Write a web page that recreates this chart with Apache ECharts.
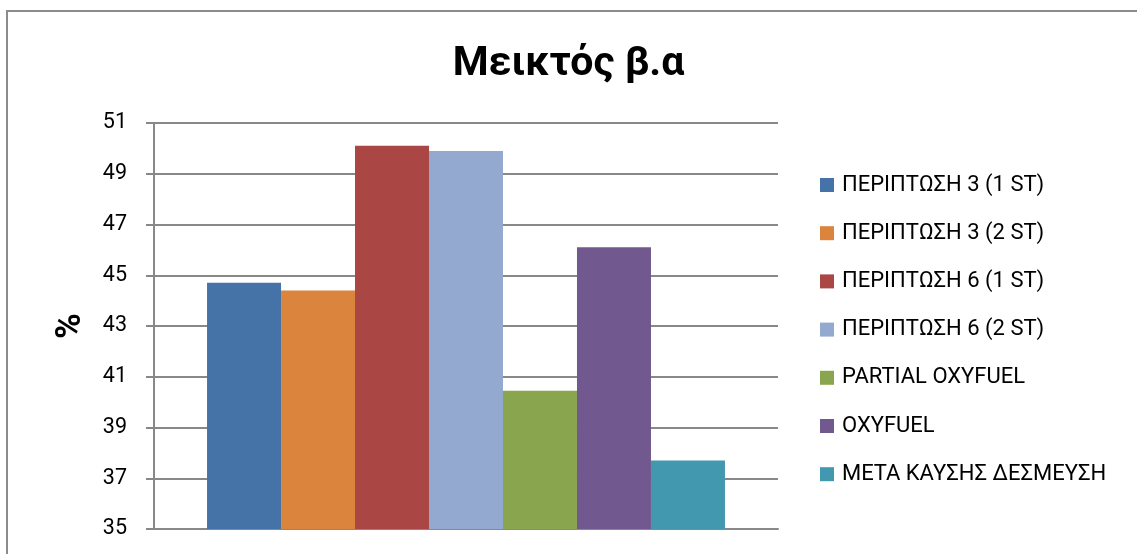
<!DOCTYPE html>
<html>
<head>
<meta charset="utf-8">
<script src="https://cdn.jsdelivr.net/npm/echarts@6/dist/echarts.min.js"></script>
<style>
  html, body { margin: 0; padding: 0; background: #fff; }
  #chart { width: 1137px; height: 554px; }
</style>
</head>
<body>
<div id="chart"></div>
<script>
// Series names (legend order) and their values in %
const seriesNames = [
  'ΠΕΡΙΠΤΩΣΗ 3 (1 ST)',
  'ΠΕΡΙΠΤΩΣΗ 3 (2 ST)',
  'ΠΕΡΙΠΤΩΣΗ 6 (1 ST)',
  'ΠΕΡΙΠΤΩΣΗ 6 (2 ST)',
  'PARTIAL OXYFUEL',
  'OXYFUEL',
  'ΜΕΤΑ ΚΑΥΣΗΣ ΔΕΣΜΕΥΣΗ'
];
const seriesValues = [44.7, 44.4, 50.1, 49.9, 40.45, 46.1, 37.7];
const seriesColors = ['#4572A7', '#DB843D', '#AA4643', '#93A9CF', '#89A54E', '#71588F', '#4198AF'];
const categories = [''];
const yMin = 35, yMax = 51, yStep = 2;

const FONT = 'Roboto, "Open Sans", sans-serif';
const GRID_COLOR = '#888888';

const chart = echarts.init(document.getElementById('chart'), null, { renderer: 'canvas' });

chart.setOption({
  animation: false,
  backgroundColor: '#fff',
  textStyle: { fontFamily: FONT },
  title: {
    text: 'Μεικτός β.α',
    left: 'center',
    top: 39,
    textStyle: { fontFamily: FONT, fontSize: 41, fontWeight: 'bold', color: '#000' }
  },
  // outer frame of the chart area
  graphic: [{
    type: 'rect',
    shape: { x: 7, y: 11, width: 1200, height: 700 },
    style: { fill: 'none', stroke: '#8c8c8c', lineWidth: 2 },
    silent: true,
    z: -1
  }],
  legend: {
    orient: 'vertical',
    left: 815,
    top: 168,
    icon: 'rect',
    itemWidth: 14,
    itemHeight: 14,
    itemGap: 24.2,
    textStyle: { fontFamily: FONT, fontSize: 22, color: '#000', lineHeight: 24, padding: [0, 0, 0, 3] },
    data: seriesNames
  },
  grid: { left: 154, right: 359, top: 123, bottom: 25, containLabel: false },
  xAxis: {
    type: 'category',
    data: categories,
    axisLine: { show: true, lineStyle: { color: GRID_COLOR, width: 2 } },
    axisTick: { show: false },
    axisLabel: { show: false },
    splitLine: { show: false }
  },
  yAxis: {
    type: 'value',
    min: yMin,
    max: yMax,
    interval: yStep,
    name: '%',
    nameLocation: 'middle',
    nameRotate: 90,
    nameGap: 65,
    nameTextStyle: { fontFamily: FONT, fontSize: 35, fontWeight: 'bold', color: '#000' },
    axisLine: { show: true, lineStyle: { color: GRID_COLOR, width: 2 } },
    axisTick: { show: true, inside: false, length: 8, lineStyle: { color: GRID_COLOR, width: 2 } },
    axisLabel: { fontFamily: FONT, fontSize: 21.5, color: '#000', margin: 27 },
    splitLine: { show: true, lineStyle: { color: GRID_COLOR, width: 2 } }
  },
  series: seriesNames.map((name, i) => ({
    name: name,
    type: 'bar',
    data: [seriesValues[i]],
    barGap: '0%',
    barCategoryGap: '17%',
    itemStyle: { color: seriesColors[i] }
  }))
});
</script>
</body>
</html>
